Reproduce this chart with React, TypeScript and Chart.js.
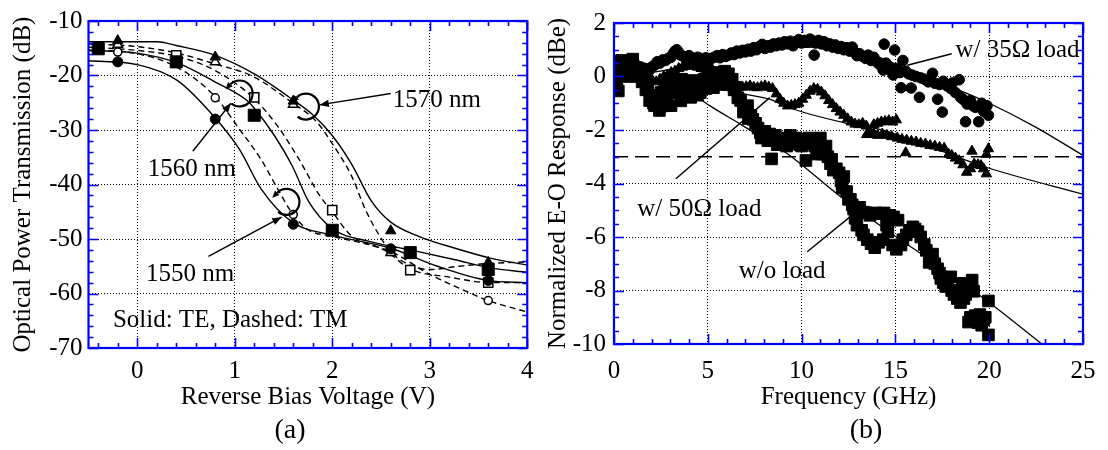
import React, { useEffect, useRef } from 'react';
import { Chart, registerables } from 'chart.js';

Chart.register(...registerables);

const FONT = '"Liberation Serif", "Times New Roman", Times, serif';
const BLUE = '#0000ff';

// ---------- Panel (a): transmission vs reverse bias ----------
const aTicksX = [0, 1, 2, 3, 4];
const aTicksY = [-70, -60, -50, -40, -30, -20, -10];

const vTE1570 = [-0.5, 0.2, 0.4, 0.8, 1.2, 1.6, 1.8, 2.0, 2.2, 2.4, 2.6, 2.9, 3.26, 3.62, 4.0];
const dbTE1570 = [-13.8, -13.8, -14.5, -16.3, -19.7, -24.5, -27.2, -31.0, -36.3, -43.0, -46.9, -49.6, -51.7, -53.5, -54.8];
const vTE1560 = [-0.5, 0, 0.41, 0.8, 1.12, 1.2, 1.41, 1.59, 1.76, 2.0, 2.37, 2.8, 3.26, 3.62, 4.0];
const dbTE1560 = [-15.4, -15.9, -17.7, -21.2, -24.5, -26.0, -31.1, -36.6, -43.2, -48.1, -50.4, -52.0, -53.8, -55.3, -56.1];
const vTE1550 = [-0.5, 0, 0.41, 0.8, 1.05, 1.27, 1.59, 2.0, 2.6, 3.08, 3.6, 4.0];
const dbTE1550 = [-17.3, -18.0, -20.9, -27.8, -33.6, -40.8, -46.9, -49.3, -51.7, -55.0, -57.6, -58.0];
const vTM1570 = [-0.5, 0, 0.41, 0.8, 1.19, 1.59, 1.84, 2.0, 2.2, 2.35, 2.6, 2.8, 3.0, 3.3, 3.6, 4.0];
const dbTM1570 = [-14.2, -14.7, -15.9, -17.9, -20.2, -25.0, -28.5, -32.5, -38.5, -45.0, -52.3, -54.8, -55.6, -55.0, -54.5, -54.2];
const vTM1560 = [-0.5, 0, 0.41, 0.8, 1.19, 1.44, 1.66, 1.87, 2.0, 2.19, 2.55, 2.8, 3.2, 3.62, 4.0];
const dbTM1560 = [-14.8, -15.4, -16.5, -19.1, -24.1, -29.3, -35.4, -42.0, -45.0, -49.3, -52.2, -55.5, -57.0, -58.0, -58.0];
const vTM1550 = [-0.5, 0, 0.41, 0.8, 1.05, 1.27, 1.44, 1.59, 1.75, 2.0, 2.6, 3.0, 3.3, 3.6, 4.0];
const dbTM1550 = [-15.3, -16.0, -18.5, -23.9, -29.9, -35.4, -40.8, -45.3, -48.3, -49.5, -52.3, -56.5, -59.0, -61.3, -63.4];

// measured points
const mvTri = [-0.2, 0.8, 1.6, 2.6, 3.6];
const mvCirc = [-0.2, 0.8, 1.6, 2.6, 3.6];
const mvSq = [-0.4, 0.4, 1.2, 2.0, 2.8, 3.6];
const mTE1570 = [-13.6, -16.6, -24.7, -48.5, -54.3];
const mTE1560 = [-15.1, -17.5, -27.3, -48.4, -52.5, -55.6];
const mTE1550 = [-17.5, -28.0, -47.3, -51.8, -57.6];
const mTM1570 = [-14.3, -17.5, -25.3, -52.5, -54.8];
const mTM1560 = [-14.8, -16.3, -24.0, -44.7, -55.7, -58.0];
const mTM1550 = [-15.7, -24.1, -45.5, -52.3, -61.3];

// ---------- Panel (b): E-O response ----------
const bTicksX = [0, 5, 10, 15, 20, 25];
const bTicksY = [-10, -8, -6, -4, -2, 0, 2];

const load35: [number, number][] = [
  [0.05, 0.5], [0.25, 0.6], [0.45, 0.45], [0.65, 0.55], [0.85, 0.65], [1.05, 0.5], [1.25, 0.4], [1.45, 0.35],
  [1.65, 0.3], [1.85, 0.2], [2.0, 0.35], [2.16, 0.42], [2.3, 0.55], [2.45, 0.5], [2.6, 0.62], [2.75, 0.6],
  [2.9, 0.68], [3.04, 0.72], [3.15, 0.85], [3.25, 0.95], [3.35, 1.0], [3.45, 0.9], [3.55, 0.8], [3.7, 0.75],
  [3.85, 0.7], [4.0, 0.78], [4.15, 0.7], [4.3, 0.65], [4.45, 0.72], [4.6, 0.68], [4.75, 0.62], [4.9, 0.7],
  [5.05, 0.6], [5.2, 0.68], [5.35, 0.72], [5.5, 0.78], [5.65, 0.7], [5.8, 0.82], [5.95, 0.75], [6.1, 0.8],
  [6.25, 0.88], [6.4, 0.82], [6.55, 0.95], [6.7, 0.88], [6.85, 0.98], [7.0, 0.92], [7.15, 1.02], [7.3, 0.95],
  [7.45, 1.08], [7.6, 1.0], [7.75, 1.12], [7.9, 1.2], [8.05, 1.05], [8.2, 1.15], [8.35, 1.1], [8.5, 1.22],
  [8.65, 1.15], [8.8, 1.25], [8.95, 1.18], [9.1, 1.3], [9.25, 1.22], [9.4, 1.32], [9.55, 1.15], [9.7, 1.3],
  [9.85, 1.38], [10.0, 1.25], [10.15, 1.35], [10.3, 1.28], [10.45, 1.4], [10.6, 1.32], [10.67, 0.8], [10.75, 1.25],
  [10.9, 1.35], [11.05, 1.22], [11.2, 1.3], [11.35, 1.15], [11.5, 1.22], [11.65, 1.1], [11.8, 1.18], [11.95, 1.05],
  [12.1, 1.12], [12.25, 1.0], [12.4, 1.08], [12.55, 0.95], [12.7, 1.1], [12.85, 0.9], [12.95, 0.78], [13.1, 0.85],
  [13.25, 0.75], [13.4, 0.68], [13.55, 0.8], [13.7, 0.6], [13.85, 0.72], [14.0, 0.55], [14.15, 0.45], [14.3, 0.35],
  [14.35, 0.24], [14.4, 1.21], [14.5, 0.5], [14.65, 0.35], [14.8, 0.2], [14.88, 0.06], [14.96, 0.99], [15.1, 0.3],
  [15.25, 0.15], [15.3, -0.42], [15.4, 0.6], [15.55, 0.2], [15.7, 0.1], [15.84, -0.43], [15.9, 0.05], [16.1, 0.0],
  [16.28, -0.78], [16.35, -0.05], [16.55, -0.1], [16.75, -0.2], [16.98, 0.12], [17.1, -0.25], [17.25, -0.85],
  [17.35, -0.3], [17.5, -1.33], [17.55, -0.18], [17.75, -0.35], [17.95, -0.45], [18.04, -0.24], [18.2, -0.6],
  [18.4, -0.12], [18.47, -0.78], [18.6, -0.85], [18.74, -1.69], [18.82, -1.03], [19.0, -0.9], [19.15, -1.1],
  [19.26, -1.15], [19.44, -1.69], [19.6, -1.0], [19.7, -1.3], [19.79, -1.27], [19.88, -1.09], [19.96, -1.45],
];

const load50: [number, number][] = [
  [0.05, 0.35], [0.25, 0.5], [0.45, 0.6], [0.65, 0.55], [0.85, 0.62], [1.05, 0.45], [1.25, 0.35], [1.45, 0.2],
  [1.65, 0.1], [1.85, -0.05], [2.05, -0.15], [2.25, -0.2], [2.45, -0.1], [2.65, 0.0], [2.85, 0.05], [3.05, 0.15],
  [3.25, 0.2], [3.45, 0.3], [3.65, 0.35], [3.85, 0.42], [4.05, 0.38], [4.25, 0.45], [4.45, 0.35], [4.65, 0.3],
  [4.85, 0.28], [5.05, 0.32], [5.25, 0.25], [5.45, 0.1], [5.65, 0.0], [5.85, -0.12], [6.05, -0.22], [6.25, -0.3],
  [6.45, -0.35], [6.65, -0.42], [6.85, -0.4], [7.05, -0.38], [7.25, -0.35], [7.45, -0.4], [7.65, -0.42],
  [7.85, -0.38], [8.05, -0.35], [8.25, -0.4], [8.45, -0.45], [8.65, -0.65], [8.85, -0.85], [9.05, -1.0],
  [9.25, -1.1], [9.45, -1.08], [9.65, -1.05], [9.85, -1.0], [10.05, -0.85], [10.25, -0.7], [10.45, -0.55],
  [10.65, -0.45], [10.85, -0.48], [11.05, -0.58], [11.25, -0.72], [11.45, -0.9], [11.65, -1.05], [11.85, -1.2],
  [12.05, -1.33], [12.25, -1.45], [12.45, -1.58], [12.65, -1.7], [12.85, -1.78], [13.05, -1.8], [13.25, -1.75],
  [13.45, -1.85], [13.47, -2.17], [13.65, -2.05], [13.85, -1.8], [13.85, -2.15], [14.05, -1.75], [14.05, -2.2],
  [14.25, -1.7], [14.3, -2.15], [14.45, -1.68], [14.55, -2.2], [14.65, -1.65], [14.8, -2.25], [14.85, -1.7],
  [15.05, -1.62], [15.1, -2.3], [15.35, -2.35], [15.55, -2.85], [15.6, -2.38], [15.85, -2.42], [16.1, -2.45],
  [16.35, -2.5], [16.6, -2.52], [16.85, -2.58], [17.1, -2.6], [17.35, -2.65], [17.6, -2.68], [17.84, -2.91],
  [18.0, -2.95], [18.2, -3.05], [18.4, -3.15], [18.6, -3.3], [18.8, -3.58], [19.0, -3.45], [19.08, -2.79],
  [19.2, -3.27], [19.4, -3.3], [19.56, -3.33], [19.7, -3.45], [19.85, -2.91], [19.85, -3.64], [19.96, -2.7],
];

const noLoad: [number, number][] = [
  [0.0, -0.3], [0.0, 0.5], [0.1, 0.3], [0.15, -0.1], [0.23, -0.54], [0.3, 0.2], [0.4, 0.6], [0.5, 0.35], [0.6, 0.0],
  [0.7, 0.1], [0.8, 0.4], [0.9, 0.55], [1.0, 0.65], [1.1, 0.3], [1.2, 0.0], [1.3, 0.2], [1.4, 0.15], [1.5, -0.2],
  [1.6, -0.1], [1.7, -0.5], [1.8, -0.3], [1.9, -0.9], [2.0, -0.7], [2.1, -1.0], [2.16, -1.09], [2.3, -0.9],
  [2.42, -1.27], [2.5, -0.6], [2.6, -1.1], [2.7, -0.4], [2.8, -0.8], [2.9, -0.3], [3.04, -1.09], [3.1, -0.5],
  [3.2, -0.6], [3.3, -0.2], [3.4, -0.4], [3.56, -0.91], [3.6, -0.1], [3.8, -0.5], [3.9, -0.2], [4.09, -0.78],
  [4.2, -0.15], [4.3, -0.3], [4.45, -0.7], [4.6, -0.6], [4.7, -0.2], [4.8, -0.1], [4.9, -0.45], [5.0, 0.1],
  [5.15, -0.2], [5.3, -0.42], [5.4, 0.15], [5.5, 0.05], [5.65, -0.15], [5.84, -0.3], [5.9, 0.2], [6.0, -0.1],
  [6.1, 0.1], [6.2, -0.24], [6.3, -0.1], [6.4, -0.5], [6.5, -0.4], [6.6, -0.8], [6.75, -0.9], [6.9, -1.33],
  [7.0, -1.2], [7.12, -1.09], [7.16, -1.57], [7.3, -1.45], [7.4, -1.6], [7.55, -1.75], [7.68, -1.93], [7.8, -2.1],
  [7.86, -2.3], [8.04, -2.05], [8.1, -2.25], [8.2, -2.4], [8.3, -2.15], [8.4, -3.08], [8.5, -2.3], [8.6, -2.2],
  [8.7, -2.55], [8.8, -2.5], [8.9, -2.35], [9.0, -2.3], [9.1, -2.55], [9.2, -2.6], [9.3, -2.4], [9.4, -2.2],
  [9.5, -2.45], [9.6, -2.5], [9.7, -2.3], [9.8, -2.35], [9.9, -2.55], [10.0, -2.6], [10.1, -2.4], [10.23, -3.14],
  [10.3, -2.5], [10.4, -2.3], [10.5, -2.45], [10.6, -2.5], [10.7, -2.6], [10.8, -2.9], [10.9, -2.4], [11.0, -2.3],
  [11.1, -2.9], [11.2, -2.7], [11.3, -2.6], [11.4, -3.0], [11.54, -3.26], [11.6, -3.1], [11.7, -3.5],
  [11.85, -3.45], [12.0, -3.6], [12.1, -3.9], [12.16, -4.17], [12.25, -3.74], [12.4, -4.3], [12.5, -4.59],
  [12.6, -4.59], [12.7, -4.8], [12.77, -4.95], [12.85, -5.3], [12.95, -5.56], [13.1, -4.89], [13.2, -5.75],
  [13.3, -5.07], [13.3, -5.92], [13.45, -5.1], [13.5, -6.1], [13.65, -5.19], [13.7, -6.25], [13.9, -6.4],
  [13.95, -5.1], [14.1, -6.2], [14.17, -5.13], [14.35, -6.1], [14.4, -5.1], [14.53, -5.56], [14.6, -5.8],
  [14.7, -5.19], [14.85, -6.3], [14.9, -5.25], [15.05, -6.46], [15.14, -5.37], [15.3, -6.3], [15.4, -6.1],
  [15.58, -5.92], [15.75, -5.75], [15.93, -5.62], [16.05, -5.7], [16.2, -5.8], [16.35, -6.0], [16.54, -6.28],
  [16.65, -6.5], [16.8, -6.95], [16.98, -6.64], [17.1, -7.0], [17.25, -7.19], [17.35, -7.35], [17.42, -7.55],
  [17.55, -7.7], [17.68, -7.85], [17.8, -7.6], [17.95, -7.49], [18.0, -8.0], [18.12, -8.15], [18.3, -8.3],
  [18.47, -8.45], [18.56, -7.73], [18.65, -8.3], [18.74, -8.15], [18.9, -9.18], [19.0, -9.0], [19.09, -7.61],
  [19.17, -8.03], [19.26, -8.94], [19.4, -9.2], [19.5, -8.9], [19.6, -9.3], [19.7, -9.1], [19.79, -9.0],
  [19.96, -8.39], [19.96, -9.66],
];

const fit35: [number, number][] = [
  [0, 0.0], [2, 0.15], [4, 0.4], [6, 0.7], [8, 0.95], [10, 1.1], [12, 1.05], [14, 0.75], [16, 0.15], [18, -0.4],
  [20, -1.0], [22.5, -1.9], [25, -2.95],
];
const fit50: [number, number][] = [
  [0, 0.1], [3, -0.15], [5.5, -0.45], [7.25, -0.7], [8.3, -0.85], [9.26, -1.15], [12.4, -1.75], [14.3, -2.0],
  [17.1, -2.7], [20, -3.43], [25, -4.4],
];
const fitNoLoad: [number, number][] = [
  [0, 0.1], [2, -0.1], [3.5, -0.4], [4.4, -0.75], [5.1, -1.09], [6.8, -1.81], [9.26, -2.9], [12.0, -4.45],
  [15.05, -6.0], [17.16, -7.0], [20.0, -8.45], [22.8, -10.0],
];
const line3dB: [number, number][] = [[0, -3], [25, -3]];

// ---------- helpers ----------
const xy = (xs: number[], ys: number[]) => xs.map((x, i) => ({ x, y: ys[i] }));
const pairs = (p: [number, number][]) => p.map(([x, y]) => ({ x, y }));

function curveDs(data: any[], dashed: boolean, dash: number[] = [6, 4], width = 1.4) {
  return {
    data,
    showLine: true,
    pointRadius: 0,
    borderColor: '#000',
    borderWidth: width,
    borderDash: dashed ? dash : [],
    cubicInterpolationMode: 'monotone',
    fill: false,
  };
}
function markDs(data: any[], style: string, radius: number, filled: boolean) {
  return {
    data,
    showLine: false,
    pointStyle: style,
    pointRadius: radius,
    backgroundColor: filled ? '#000' : '#fff',
    borderColor: '#000',
    borderWidth: filled ? 1 : 1.5,
  };
}

function frameTicksPlugin(xMinor: number, xMajor: number, yMinor: number, yMajor: number) {
  return {
    id: 'frameTicks',
    afterDraw(chart: any) {
      const { ctx, chartArea: a, scales } = chart;
      const sx = scales.x;
      const sy = scales.y;
      ctx.save();
      ctx.strokeStyle = BLUE;
      ctx.lineWidth = 1.6;
      ctx.beginPath();
      const i0 = Math.ceil(sx.min / xMinor - 1e-9);
      const i1 = Math.floor(sx.max / xMinor + 1e-9);
      for (let i = i0; i <= i1; i++) {
        const v = i * xMinor;
        const major = Math.abs(v / xMajor - Math.round(v / xMajor)) < 1e-6;
        const len = major ? 10 : 5;
        const px = Math.round(sx.getPixelForValue(v)) + 0.5;
        ctx.moveTo(px, a.bottom);
        ctx.lineTo(px, a.bottom - len);
        ctx.moveTo(px, a.top);
        ctx.lineTo(px, a.top + len);
      }
      const j0 = Math.ceil(sy.min / yMinor - 1e-9);
      const j1 = Math.floor(sy.max / yMinor + 1e-9);
      for (let j = j0; j <= j1; j++) {
        const v = j * yMinor;
        const major = Math.abs(v / yMajor - Math.round(v / yMajor)) < 1e-6;
        const len = major ? 10 : 5;
        const py = Math.round(sy.getPixelForValue(v)) + 0.5;
        ctx.moveTo(a.left, py);
        ctx.lineTo(a.left + len, py);
        ctx.moveTo(a.right, py);
        ctx.lineTo(a.right - len, py);
      }
      ctx.stroke();
      ctx.lineWidth = 2.2;
      ctx.strokeRect(a.left, a.top, a.right - a.left, a.bottom - a.top);
      ctx.restore();
    },
  };
}

function arrowTo(ctx: CanvasRenderingContext2D, x1: number, y1: number, x2: number, y2: number, head: number) {
  ctx.beginPath();
  ctx.moveTo(x1, y1);
  ctx.lineTo(x2, y2);
  ctx.stroke();
  if (head > 0) {
    const ang = Math.atan2(y2 - y1, x2 - x1);
    ctx.beginPath();
    ctx.moveTo(x2, y2);
    ctx.lineTo(x2 - head * Math.cos(ang - 0.38), y2 - head * Math.sin(ang - 0.38));
    ctx.lineTo(x2 - head * Math.cos(ang + 0.38), y2 - head * Math.sin(ang + 0.38));
    ctx.closePath();
    ctx.fill();
  }
}

function curly(ctx: CanvasRenderingContext2D, cx: number, cy: number, r: number, start: number, end: number) {
  ctx.save();
  ctx.lineWidth = 2.2;
  ctx.beginPath();
  ctx.arc(cx, cy, r, start, end);
  ctx.stroke();
  const sx = cx + r * Math.cos(start);
  const sy = cy + r * Math.sin(start);
  const tx = Math.sin(start);
  const ty = -Math.cos(start);
  const h = 7;
  const nx = -ty;
  const ny = tx;
  ctx.beginPath();
  ctx.moveTo(sx + tx * h, sy + ty * h);
  ctx.lineTo(sx + nx * h * 0.45, sy + ny * h * 0.45);
  ctx.lineTo(sx - nx * h * 0.45, sy - ny * h * 0.45);
  ctx.closePath();
  ctx.fill();
  ctx.restore();
}

// annotation anchors (data units)
const aNotes = [
  { text: '1570 nm', x: 2.62, y: -24.5 },
  { text: '1560 nm', x: 0.107, y: -37.2 },
  { text: '1550 nm', x: 0.09, y: -56.5 },
  { text: 'Solid: TE, Dashed: TM', x: -0.25, y: -65.0 },
];
const aArrows = [
  [2.6, -23.3, 1.87, -25.4],
  [0.57, -33.9, 0.96, -25.1],
  [0.73, -53.2, 1.48, -46.0],
];
const aCurls = [
  [1.73, -25.7],
  [1.05, -23.3],
  [1.53, -43.2],
];
const bNotes = [
  { text: 'w/ 35Ω load', x: 18.2, y: 0.97 },
  { text: 'w/ 50Ω load', x: 1.24, y: -4.97 },
  { text: 'w/o load', x: 6.65, y: -7.27 },
];
const bLeaders = [
  [15.64, 0.42, 18.0, 0.85],
  [3.3, -3.82, 8.3, -0.79],
  [10.3, -6.55, 13.1, -4.95],
];

function notesPlugin(notes: any[], arrows: number[][], curls: number[][], head: number, panelLabel: string, labelX: number) {
  return {
    id: 'notes',
    afterDraw(chart: any) {
      const { ctx, scales } = chart;
      const sx = scales.x;
      const sy = scales.y;
      ctx.save();
      ctx.fillStyle = '#000';
      ctx.strokeStyle = '#000';
      ctx.lineWidth = 1.4;
      ctx.font = `25px ${FONT}`;
      ctx.textAlign = 'left';
      ctx.textBaseline = 'middle';
      for (const n of notes) {
        ctx.fillText(n.text, sx.getPixelForValue(n.x), sy.getPixelForValue(n.y));
      }
      for (const a of arrows) {
        arrowTo(ctx, sx.getPixelForValue(a[0]), sy.getPixelForValue(a[1]), sx.getPixelForValue(a[2]), sy.getPixelForValue(a[3]), head);
      }
      for (const c of curls) {
        curly(ctx, sx.getPixelForValue(c[0]), sy.getPixelForValue(c[1]), 13, -0.75 * Math.PI, 0.72 * Math.PI);
      }
      ctx.font = `28px ${FONT}`;
      ctx.textAlign = 'center';
      ctx.fillText(panelLabel, labelX, 431);
      ctx.restore();
    },
  };
}

function axisCommon(min: number, max: number, step: number, pad: number, title: string, titlePad: any, fit: (s: any) => void) {
  return {
    type: 'linear',
    min,
    max,
    ticks: {
      stepSize: step,
      includeBounds: false,
      padding: pad,
      color: '#000',
      font: { size: 25, family: FONT },
      maxRotation: 0,
      autoSkip: false,
    },
    grid: { color: '#000', lineWidth: 1, drawTicks: false },
    border: { display: false, dash: [1, 2] },
    title: { display: true, text: title, color: '#000', font: { size: 25, family: FONT }, padding: titlePad },
    afterFit: fit,
  };
}

export default function App() {
  const refA = useRef<HTMLCanvasElement>(null);
  const refB = useRef<HTMLCanvasElement>(null);

  useEffect(() => {
    Chart.defaults.font.family = FONT;
    const chartA = new Chart(refA.current as HTMLCanvasElement, {
      type: 'scatter',
      data: {
        datasets: [
          markDs(xy(mvTri, mTE1570), 'triangle', 6, true),
          markDs(xy(mvSq, mTE1560), 'rect', 8.5, true),
          markDs(xy(mvCirc, mTE1550), 'circle', 5, true),
          markDs(xy(mvTri, mTM1570), 'triangle', 5.5, false),
          markDs(xy(mvSq, mTM1560), 'rect', 6.5, false),
          markDs(xy(mvCirc, mTM1550), 'circle', 4, false),
          curveDs(xy(vTE1570, dbTE1570), false),
          curveDs(xy(vTE1560, dbTE1560), false),
          curveDs(xy(vTE1550, dbTE1550), false),
          curveDs(xy(vTM1570, dbTM1570), true),
          curveDs(xy(vTM1560, dbTM1560), true),
          curveDs(xy(vTM1550, dbTM1550), true),
        ] as any,
      },
      options: {
        responsive: false,
        animation: false,
        layout: { padding: { top: 17, right: 7, left: 0, bottom: 0 } },
        plugins: { legend: { display: false }, tooltip: { enabled: false } },
        scales: {
          x: axisCommon(-0.5, 4, 1, 8.5, 'Reverse Bias Voltage (V)', { top: 0, bottom: 38 }, (s: any) => { s.height = 102; }),
          y: axisCommon(-70, -10, 10, 6, 'Optical Power Transmission (dB)', { top: 8, bottom: 0 }, (s: any) => { s.width = 88.5; }),
        } as any,
      },
      plugins: [frameTicksPlugin(0.2, 1, 2, 10), notesPlugin(aNotes, aArrows, aCurls, 10, '(a)', 290)],
    });

    const chartB = new Chart(refB.current as HTMLCanvasElement, {
      type: 'scatter',
      data: {
        datasets: [
          markDs(pairs(load50), 'triangle', 6, true),
          markDs(pairs(load35), 'circle', 5.3, true),
          markDs(pairs(noLoad), 'rect', 8.2, true),
          curveDs(pairs(fit35), false, [], 1.3),
          curveDs(pairs(fit50), false, [], 1.3),
          curveDs(pairs(fitNoLoad), false, [], 1.3),
          curveDs(pairs(line3dB), true, [14, 7], 1.3),
        ] as any,
      },
      options: {
        responsive: false,
        animation: false,
        layout: { padding: { top: 15, right: 19, left: 0, bottom: 0 } },
        plugins: { legend: { display: false }, tooltip: { enabled: false } },
        scales: {
          x: axisCommon(0, 25, 5, 12.5, 'Frequency (GHz)', { top: 0, bottom: 38 }, (s: any) => { s.height = 106; }),
          y: axisCommon(-10, 2, 2, 8, 'Normalized E-O Response (dBe)', { top: 1, bottom: 0 }, (s: any) => { s.width = 72; }),
        } as any,
      },
      plugins: [frameTicksPlugin(1, 5, 0.5, 2), notesPlugin(bNotes, bLeaders, [], 0, '(b)', 866 - 542)],
    });

    return () => {
      chartA.destroy();
      chartB.destroy();
    };
  }, []);

  return (
    <div style={{ position: 'fixed', left: 0, top: 0, width: 1108, height: 450, background: '#fff' }}>
      <canvas ref={refA} width={542} height={450} style={{ position: 'absolute', left: 0, top: 0 }} />
      <canvas ref={refB} width={566} height={450} style={{ position: 'absolute', left: 542, top: 0 }} />
    </div>
  );
}
